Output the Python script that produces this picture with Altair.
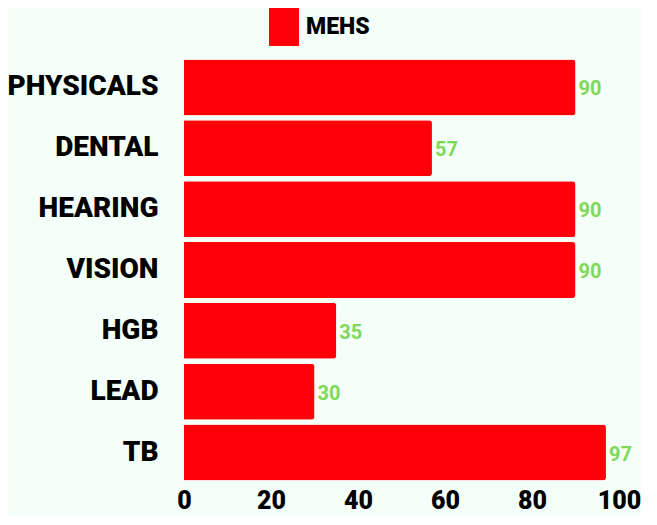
import altair as alt
import pandas as pd

categories = ["PHYSICALS", "DENTAL", "HEARING", "VISION", "HGB", "LEAD", "TB"]
values = [90, 57, 90, 90, 35, 30, 97]
series = ["MEHS"] * len(categories)

df = pd.DataFrame({"category": categories, "value": values, "series": series})

FONT = "Roboto, Lato, sans-serif"

base = alt.Chart(df).encode(
    y=alt.Y("category:N", sort=categories, title=None,
            scale=alt.Scale(paddingInner=0.08, paddingOuter=0.04),
            axis=alt.Axis(domain=False, ticks=False, labelFont=FONT, labelFontSize=28,
                          labelFontWeight=900, labelColor="#000000", labelPadding=26)),
)

bars = base.mark_bar(cornerRadiusEnd=3).encode(
    x=alt.X("value:Q", title=None, scale=alt.Scale(domain=[0, 100]),
            axis=alt.Axis(values=[0, 20, 40, 60, 80, 100], domain=False, ticks=False, grid=False,
                          labelFlush=False, labelFont=FONT, labelFontSize=25, labelFontWeight=900,
                          labelColor="#000000", labelPadding=5)),
    color=alt.Color("series:N", scale=alt.Scale(range=["#ff0008"]),
                    legend=alt.Legend(title=None, orient="none", legendX=81, legendY=-49,
                                      symbolType="M-0.79,-1H0.79V1H-0.79Z", symbolSize=1444,
                                      symbolStrokeWidth=0, symbolOpacity=1,
                                      labelFont=FONT, labelFontSize=23,
                                      labelFontWeight=900, labelColor="#000000",
                                      padding=0, labelOffset=3)),
)

labels = base.mark_text(align="left", baseline="middle", dx=3, dy=2, font=FONT,
                        fontSize=20, fontWeight="bold", color="#7ed957").encode(
    x="value:Q",
    text="value:Q",
)

chart = (bars + labels).properties(
    width=435, height=426,
    background="#f5fffa",
    padding={"left": 176, "top": 49, "right": 22, "bottom": 34},
    autosize=alt.AutoSizeParams(type="none"),
).configure_view(stroke=None)

chart.save("out.html", embed_options={"renderer": "svg", "actions": False})
